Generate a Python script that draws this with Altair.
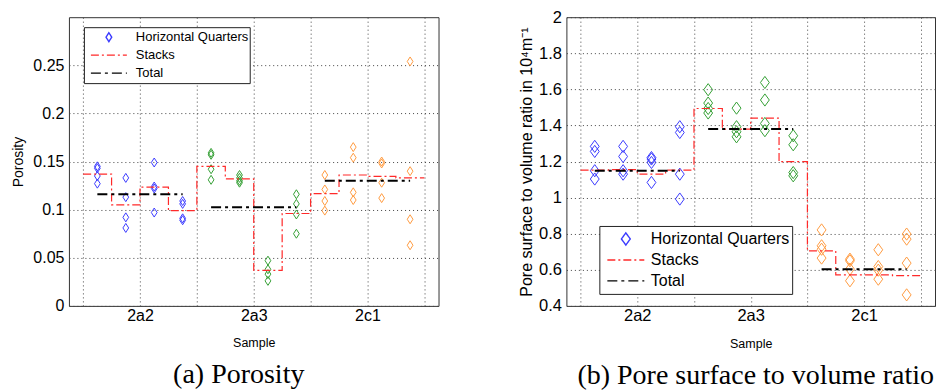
import altair as alt
import pandas as pd

# ---- data -----------------------------------------------------------------
SAMPLES = ["2a2", "2a3", "2c1"]
STACK_OFFSETS = [-0.375, -0.125, 0.125, 0.375]   # stack centres relative to sample
STACK_HALF_WIDTH = 0.125

# four horizontal quarters per stack, four stacks per sample
POROSITY_QUARTERS = [
    [0.145, 0.143, 0.135, 0.127], [0.133, 0.113, 0.092, 0.081],
    [0.149, 0.124, 0.122, 0.097], [0.109, 0.106, 0.091, 0.089],
    [0.159, 0.157, 0.142, 0.131], [0.136, 0.133, 0.130, 0.128],
    [0.047, 0.038, 0.033, 0.026], [0.116, 0.106, 0.095, 0.075],
    [0.136, 0.121, 0.109, 0.099], [0.165, 0.154, 0.118, 0.110],
    [0.150, 0.148, 0.128, 0.112], [0.254, 0.140, 0.090, 0.063],
]
POROSITY_STACKS = [0.137, 0.105, 0.1235, 0.099,
                   0.145, 0.132, 0.037, 0.096,
                   0.1166, 0.136, 0.1346, 0.133]
POROSITY_TOTAL = [0.116, 0.1025, 0.130]

SVR_QUARTERS = [
    [1.284, 1.256, 1.149, 1.103], [1.284, 1.228, 1.149, 1.130],
    [1.222, 1.214, 1.195, 1.084], [1.393, 1.361, 1.130, 0.992],
    [1.598, 1.524, 1.494, 1.469], [1.496, 1.393, 1.365, 1.337],
    [1.638, 1.541, 1.411, 1.371], [1.343, 1.293, 1.139, 1.121],
    [0.821, 0.733, 0.714, 0.665], [0.659, 0.650, 0.604, 0.539],
    [0.711, 0.618, 0.598, 0.548], [0.798, 0.770, 0.637, 0.461],
]
SVR_STACKS = [1.152, 1.155, 1.130, 1.152,
              1.494, 1.380, 1.441, 1.199,
              0.705, 0.572, 0.572, 0.568]
SVR_TOTAL = [1.149, 1.380, 0.603]

POROSITY_TICKS = [0, 0.05, 0.1, 0.15, 0.2, 0.25]
SVR_TICKS = [0.4, 0.6, 0.8, 1.0, 1.2, 1.4, 1.6, 1.8, 2.0]
X_GRID = [0.5, 1, 1.5, 2, 2.5, 3, 3.5]

LEGEND_ITEMS = ["Horizontal Quarters", "Stacks", "Total"]
CLASSES = LEGEND_ITEMS + ["quarters 2a3", "quarters 2c1"]
CLASS_COLORS = ["#3b3bff", "#ff2a2a", "#000000", "#35a035", "#ff9b40"]
CLASS_DASHES = [[1, 0], [8, 3, 2, 3], [10, 4, 3, 4], [1, 0], [1, 0]]

FONT = "Liberation Sans"


def diamond(half_h, half_w):
    return f"M0,{-half_h}L{half_w},0L0,{half_h}L{-half_w},0Z"


def build_frames(quarters, stacks, totals):
    pts, stairs, tot = [], [], []
    for si, sample in enumerate(SAMPLES):
        centre = si + 1
        cls = "Horizontal Quarters" if si == 0 else f"quarters {sample}"
        for k, off in enumerate(STACK_OFFSETS):
            idx = si * len(STACK_OFFSETS) + k
            x = centre + off
            for v in quarters[idx]:
                pts.append({"x": x, "value": v, "cls": cls})
            stairs.append({"x": x - STACK_HALF_WIDTH, "value": stacks[idx], "cls": "Stacks"})
        for off in (STACK_OFFSETS[0], STACK_OFFSETS[-1]):
            tot.append({"x": centre + off, "value": totals[si], "cls": "Total", "sample": sample})
    last_edge = len(SAMPLES) + STACK_OFFSETS[-1] + STACK_HALF_WIDTH
    stairs.append({"x": last_edge, "value": stacks[-1], "cls": "Stacks"})
    return pd.DataFrame(pts), pd.DataFrame(stairs), pd.DataFrame(tot)


def panel(quarters, stacks, totals, *, y_title, y_domain, y_ticks, caption,
          caption_dx, sym, marker_path, tick_font, title_font, title_pad,
          legend_font, legend_x, legend_y, legend_row_h, legend_pad,
          legend_sym_off, legend_label_off, legend_tail, width):
    pts, stairs, tot = build_frames(quarters, stacks, totals)

    legend = alt.Legend(
        title=None, orient="none", legendX=legend_x, legendY=legend_y,
        values=LEGEND_ITEMS, labelFont=FONT, labelFontSize=legend_font,
        labelColor="black", labelExpr=f"datum.label + '{legend_tail}'",
        labelOffset=legend_label_off, symbolOffset=legend_sym_off,
        symbolSize=sym, symbolStrokeWidth=1.4, symbolOpacity=1,
        symbolFillColor="transparent", clipHeight=legend_row_h,
        strokeColor="#222222", fillColor="white", padding=legend_pad,
        rowPadding=0,
    )
    color = alt.Color("cls:N", scale=alt.Scale(domain=CLASSES, range=CLASS_COLORS), legend=legend)
    shape = alt.Shape("cls:N", scale=alt.Scale(
        domain=CLASSES,
        range=[marker_path, "stroke", "stroke", marker_path, marker_path]), legend=legend)
    dash = alt.StrokeDash("cls:N", scale=alt.Scale(domain=CLASSES, range=CLASS_DASHES), legend=legend)

    x = alt.X("x:Q", scale=alt.Scale(domain=[0.375, 3.625], nice=False, zero=False),
              axis=alt.Axis(values=X_GRID, title="Sample", labelFontSize=tick_font,
                            titleFontSize=12.5, labelPadding=2, titlePadding=13,
                            labelExpr="datum.value == 1 ? '2a2' : datum.value == 2 ? '2a3' : datum.value == 3 ? '2c1' : ''"))
    y = alt.Y("value:Q", scale=alt.Scale(domain=y_domain, nice=False, zero=False),
              axis=alt.Axis(values=y_ticks, format="~g", title=y_title,
                            labelFontSize=tick_font, titleFontSize=title_font,
                            labelPadding=5, titlePadding=title_pad))

    points = alt.Chart(pts).mark_point(
        filled=False, size=sym, opacity=1, strokeWidth=1
    ).encode(x=x, y=y, color=color, shape=shape)
    stair_line = alt.Chart(stairs).mark_line(
        interpolate="step-after", strokeWidth=1.2, opacity=1
    ).encode(x=x, y=y, color=color, strokeDash=dash)
    total_line = alt.Chart(tot).mark_line(strokeWidth=2, opacity=1).encode(
        x=x, y=y, color=color, strokeDash=dash, detail="sample:N")

    return alt.layer(points, stair_line, total_line).properties(
        width=width, height=289,
        title=alt.TitleParams(caption, orient="bottom", anchor="middle",
                              font="Liberation Serif", fontSize=28,
                              fontWeight="normal", color="black",
                              offset=12, dx=caption_dx),
    )


left = panel(
    POROSITY_QUARTERS, POROSITY_STACKS, POROSITY_TOTAL,
    y_title="Porosity", y_domain=[0, 0.3], y_ticks=POROSITY_TICKS,
    caption="(a) Porosity", caption_dx=-15, sym=1296,
    marker_path=diamond(0.25, 0.16), tick_font=16, title_font=14, title_pad=7,
    legend_font=13, legend_x=15, legend_y=10, legend_row_h=18, legend_pad=1,
    legend_sym_off=5, legend_label_off=8, legend_tail="  ", width=370,
)
right = panel(
    SVR_QUARTERS, SVR_STACKS, SVR_TOTAL,
    y_title="Pore surface to volume ratio in 10\u2074m\u207b\u00b9",
    y_domain=[0.4, 2.0], y_ticks=SVR_TICKS,
    caption="(b) Pore surface to volume ratio", caption_dx=5, sym=1369,
    marker_path=diamond(0.33, 0.24), tick_font=16.5, title_font=16, title_pad=4,
    legend_font=16, legend_x=33, legend_y=209, legend_row_h=21, legend_pad=2.5,
    legend_sym_off=4.5, legend_label_off=5.5, legend_tail=" ", width=369,
)

chart = alt.hconcat(left, right, spacing=128, bounds="flush").resolve_scale(
    color="independent", shape="independent", strokeDash="independent"
).resolve_legend(
    color="independent", shape="independent", strokeDash="independent"
).properties(
    padding={"left": 11, "top": 8, "right": 0, "bottom": 0},
    background="white",
).configure_axis(
    labelFont=FONT, titleFont=FONT, labelColor="black", titleColor="black",
    titleFontWeight="normal", grid=True, gridDash=[1, 3], gridColor="#444444",
    gridOpacity=1, ticks=False, domain=False,
).configure_view(stroke="#333333", strokeWidth=1)

chart.save("out.html", embed_options={"renderer": "svg", "actions": False})
